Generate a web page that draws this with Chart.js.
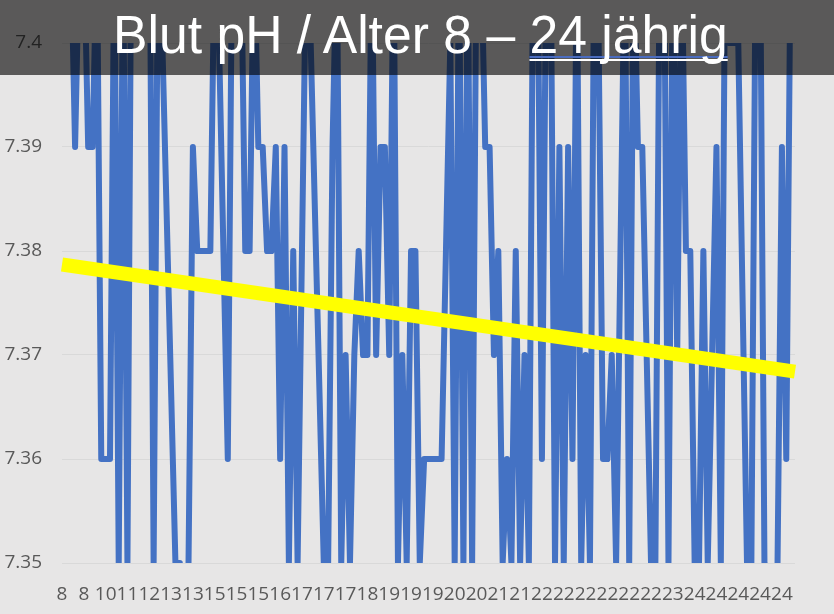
<!DOCTYPE html>
<html>
<head>
<meta charset="utf-8">
<script src="https://cdn.jsdelivr.net/npm/chart.js@4/dist/chart.umd.min.js"></script>
<style>
    body { margin: 0; background: #e7e6e6; }
    .wrap { position: relative; width: 834px; height: 614px; overflow: hidden; }
    .bar { position: absolute; left: 0; top: 0; width: 834px; height: 75px; background: rgba(0, 0, 0, 0.61); }
    .title {
        position: absolute; left: 113px; top: 9px; white-space: nowrap;
        font: 53px/52px 'Liberation Sans', Arial, sans-serif; color: #fff;
        transform: scaleX(0.975); transform-origin: left top;
    }
    .title .u1 { text-decoration: underline 2px #fff; text-underline-offset: 6px; text-decoration-skip-ink: none; }
    .title .u2 { text-decoration: underline 2px #4a6cc0; text-underline-offset: 3px; text-decoration-skip-ink: none; }
</style>
</head>
<body>
<div class="wrap">
    <canvas id="myChart" width="834" height="614"></canvas>
    <div class="bar"></div>
    <div class="title">Blut pH / Alter 8 – <span class="u1"><span class="u2">24 jährig</span></span></div>
</div>
<script>
// pH per person, sorted by age; values outside 7.35..7.40 are cut off by the plot area
const phValues = [
    7.42, 7.42, 7.41, 7.39, 7.41, 7.41, 7.39, 7.39, 7.41, 7.36,
    7.36, 7.36, 7.41, 7.35, 7.41, 7.35, 7.42, 7.42, 7.42, 7.42,
    7.42, 7.35, 7.41, 7.40, null, null, 7.35, 7.35, 7.34, 7.35,
    7.39, 7.38, 7.38, 7.38, 7.38, 7.41, 7.40, 7.38, 7.36, 7.41,
    7.41, 7.41, 7.38, 7.38, 7.41, 7.39, 7.39, 7.38, 7.38, 7.39,
    7.36, 7.39, 7.35, 7.38, 7.35, 7.38, 7.41, 7.40, null, null,
    7.35, 7.35, 7.39, 7.41, 7.35, 7.37, 7.35, 7.37, 7.38, 7.37,
    7.37, 7.41, 7.37, 7.39, 7.39, 7.37, 7.41, 7.35, 7.37, 7.35,
    7.38, 7.38, 7.35, 7.36, 7.36, 7.36, 7.36, 7.36, 7.38, 7.40,
    7.35, 7.41, 7.35, 7.41, 7.35, 7.41, 7.41, 7.39, 7.39, 7.37,
    7.38, 7.35, 7.36, 7.35, 7.38, 7.35, 7.37, 7.35, 7.41, 7.41,
    7.36, 7.41, 7.41, 7.35, 7.39, 7.35, 7.39, 7.36, 7.41, 7.35,
    7.37, 7.35, 7.41, 7.40, 7.36, 7.36, 7.37, 7.35, 7.38, 7.41,
    7.35, 7.41, 7.39, 7.39, 7.37, 7.35, 7.35, 7.41, 7.41, 7.35,
    7.41, 7.37, 7.41, 7.38, 7.38, 7.35, 7.35, 7.38, 7.35, 7.37,
    7.39, 7.35, 7.41, 7.40, 7.40, 7.40, null, 7.35, 7.35, 7.41,
    7.41, 7.35, 7.34, 7.34, 7.35, 7.39, 7.36, 7.41, 7.41
];

// age shown under every 5th point
const tickLabels = ['8', '8', '10', '11', '12', '13', '13', '15', '15', '15', '16', '17', '17', '17', '18', '19', '19',
    '19', '20', '20', '21', '21', '22', '22', '22', '22', '22', '22', '23', '24', '24', '24', '24', '24'];
const labelStep = 5;

const trendStart = 7.3787;
const trendEnd = 7.3684;

const categories = phValues.map((v, i) => i);
const trendValues = categories.map((c, i) => i === 0 ? trendStart : (i === categories.length - 1 ? trendEnd : null));

const tickFont = { family: "'Open Sans', sans-serif", size: 19 };

let ctx = document.getElementById('myChart').getContext('2d');

let myChart = new Chart(ctx, {
    type: 'line',
    data: {
        labels: categories,
        datasets: [{
            label: 'pH',
            data: phValues,
            borderColor: '#4472c4',
            borderWidth: 6,
            borderJoinStyle: 'round',
            pointRadius: 0,
            spanGaps: true,
            order: 1
        }, {
            label: 'Trend',
            data: trendValues,
            borderColor: '#ffff00',
            borderWidth: 14,
            borderCapStyle: 'butt',
            pointRadius: 0,
            spanGaps: true,
            order: 0
        }]
    },
    options: {
        responsive: false,
        animation: false,
        layout: { padding: { left: 0, right: 39, top: 43, bottom: 0 } },
        plugins: {
            legend: { display: false },
            tooltip: { enabled: false },
            title: { display: false }
        },
        scales: {
            x: {
                grid: { display: false },
                border: { display: false },
                afterFit: (scale) => { scale.height = 51; },
                ticks: {
                    autoSkip: false,
                    maxRotation: 0,
                    padding: 12,
                    color: '#595959',
                    font: tickFont,
                    callback: (val, i) => i % labelStep === 0 ? tickLabels[i / labelStep] : null
                }
            },
            y: {
                min: 7.35,
                max: 7.4,
                grid: { color: '#d9d9d9', lineWidth: 1, drawTicks: false },
                border: { display: false },
                afterFit: (scale) => { scale.width = 62; },
                ticks: {
                    stepSize: 0.01,
                    padding: 20,
                    color: '#595959',
                    font: tickFont,
                    callback: (v) => String(Number(v.toFixed(2)))
                }
            }
        }
    }
});
</script>
</body>
</html>
